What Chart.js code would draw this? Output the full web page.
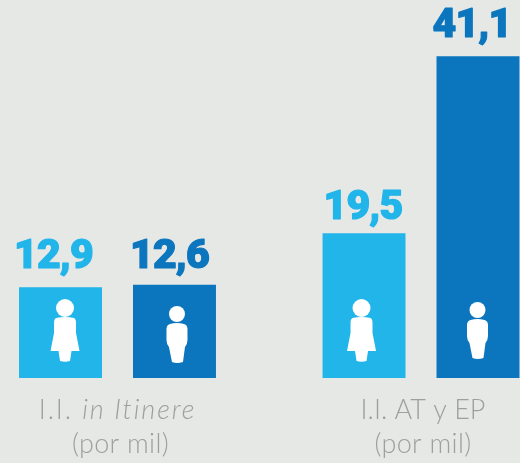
<!DOCTYPE html>
<html><head><meta charset="utf-8">
<script src="https://cdn.jsdelivr.net/npm/chart.js@4"></script>
<style>html,body{margin:0;padding:0;background:#e6e8e6;overflow:hidden}#w{position:relative;width:520px;height:463px}</style>
</head><body><div id="w"><canvas id="c"></canvas></div>
<script>
const categories = ['I.I. in Itinere', 'I.I. AT y EP'];
const seriesNames = ['Mujeres', 'Hombres'];
// Bar lengths as drawn in the picture (the reference's bars are not to scale with their printed figures)
const mujeresBars = [11.6, 18.5];
const hombresBars = [11.9, 41.1];
const mujeresLabels = ['12,9', '19,5'];
const hombresLabels = ['12,6', '41,1'];
const axisLine1 = [[['I.I. ', false], ['in Itinere', true]], [['I.I. AT y EP', false]]];
const axisLine2 = ['(por mil)', '(por mil)'];

const LIGHT = '#21b5ea', DARK = '#0b76bd', BG = '#e6e8e6', GREY = '#9da0a0';
const valueFont = '900 41px Roboto, "Liberation Sans", sans-serif';
const axisFont = '300 27px Lato, sans-serif';
const axisFontI = 'italic 300 27px Lato, sans-serif';
const line1Spacing = ['1.9px', '0px'];

// label shifts and icon shifts per [dataset][category]
const labelDX = [[-7, -1], [-5, -6]];
const labelDY = [[-19, -14], [-17, -19]];
const iconDX = [[4.5, -2.5], [2.5, -0.5]];
const iconDY = [[0, 0], [0, -4]];

function female(ctx, cx, base) {
  ctx.beginPath(); ctx.arc(cx, base - 70, 9, 0, 7); ctx.fill();
  ctx.beginPath();
  ctx.moveTo(cx - 9, base - 60);
  ctx.quadraticCurveTo(cx, base - 62, cx + 9, base - 60);
  ctx.quadraticCurveTo(cx + 11, base - 59, cx + 11, base - 55);
  ctx.lineTo(cx + 11, base - 45);
  ctx.lineTo(cx + 14.5, base - 27);
  ctx.lineTo(cx + 6.5, base - 27);
  ctx.lineTo(cx + 5, base - 17);
  ctx.quadraticCurveTo(cx, base - 15.5, cx - 5, base - 17);
  ctx.lineTo(cx - 6.5, base - 27);
  ctx.lineTo(cx - 14.5, base - 27);
  ctx.lineTo(cx - 11, base - 45);
  ctx.lineTo(cx - 11, base - 55);
  ctx.quadraticCurveTo(cx - 11, base - 59, cx - 9, base - 60);
  ctx.closePath(); ctx.fill();
}
function male(ctx, cx, base) {
  ctx.beginPath(); ctx.arc(cx, base - 64, 8, 0, 7); ctx.fill();
  ctx.beginPath();
  ctx.moveTo(cx - 7, base - 54);
  ctx.quadraticCurveTo(cx, base - 56, cx + 7, base - 54);
  ctx.quadraticCurveTo(cx + 10.5, base - 53, cx + 10.5, base - 49);
  ctx.lineTo(cx + 10.5, base - 38);
  ctx.quadraticCurveTo(cx + 10.5, base - 34, cx + 8, base - 31);
  ctx.lineTo(cx + 6, base - 16);
  ctx.quadraticCurveTo(cx, base - 14, cx - 5, base - 16);
  ctx.lineTo(cx - 8, base - 31);
  ctx.quadraticCurveTo(cx - 10.5, base - 34, cx - 10.5, base - 38);
  ctx.lineTo(cx - 10.5, base - 49);
  ctx.quadraticCurveTo(cx - 10.5, base - 53, cx - 7, base - 54);
  ctx.closePath(); ctx.fill();
}

const decorate = {
  id: 'decorate',
  afterDatasetsDraw(chart) {
    const ctx = chart.ctx, xs = chart.scales.x;
    ctx.save();
    ctx.textAlign = 'center';
    [mujeresLabels, hombresLabels].forEach((labels, d) => {
      chart.getDatasetMeta(d).data.forEach((bar, i) => {
        const col = d ? DARK : LIGHT;
        ctx.fillStyle = col;
        ctx.strokeStyle = col;
        ctx.lineWidth = 1.2;
        ctx.lineJoin = 'round';
        ctx.font = valueFont;
        ctx.letterSpacing = '-0.8px';
        ctx.fillText(labels[i], bar.x + labelDX[d][i], bar.y + labelDY[d][i]);
        ctx.strokeText(labels[i], bar.x + labelDX[d][i], bar.y + labelDY[d][i]);
        ctx.letterSpacing = '0px';
        ctx.fillStyle = '#fff';
        (d ? male : female)(ctx, bar.x + iconDX[d][i], bar.base + iconDY[d][i]);
      });
    });
    ctx.fillStyle = GREY;
    categories.forEach((_, i) => {
      const cx = xs.getPixelForTick(i) + (i ? 2 : 0);
      const runs = axisLine1[i];
      ctx.letterSpacing = line1Spacing[i];
      let w = 0;
      runs.forEach(r => { ctx.font = r[1] ? axisFontI : axisFont; w += ctx.measureText(r[0]).width; });
      let x = cx - w / 2;
      ctx.textAlign = 'left';
      runs.forEach(r => { ctx.font = r[1] ? axisFontI : axisFont; ctx.fillText(r[0], x, 419); x += ctx.measureText(r[0]).width; });
      ctx.textAlign = 'center';
      ctx.letterSpacing = '0.3px';
      ctx.font = axisFont;
      ctx.fillText(axisLine2[i], cx + (i ? 0 : 3), 453);
    });
    ctx.restore();
  }
};

new Chart(document.getElementById('c'), {
  type: 'bar',
  data: {
    labels: categories,
    datasets: [
      { label: seriesNames[0], data: mujeresBars, backgroundColor: LIGHT },
      { label: seriesNames[1], data: hombresBars, backgroundColor: DARK }
    ]
  },
  options: {
    responsive: true, maintainAspectRatio: false, animation: false,
    devicePixelRatio: 1,
    clip: false,
    categoryPercentage: 0.751, barPercentage: 0.728,
    layout: { padding: { left: 117.5, right: 99, top: 0, bottom: 85 } },
    plugins: { legend: { display: false }, tooltip: { enabled: false } },
    scales: {
      x: { display: false, offset: false, grid: { display: false } },
      y: { display: false, min: 0, max: 48.27, grid: { display: false } }
    }
  },
  plugins: [decorate]
});
</script></body></html>
